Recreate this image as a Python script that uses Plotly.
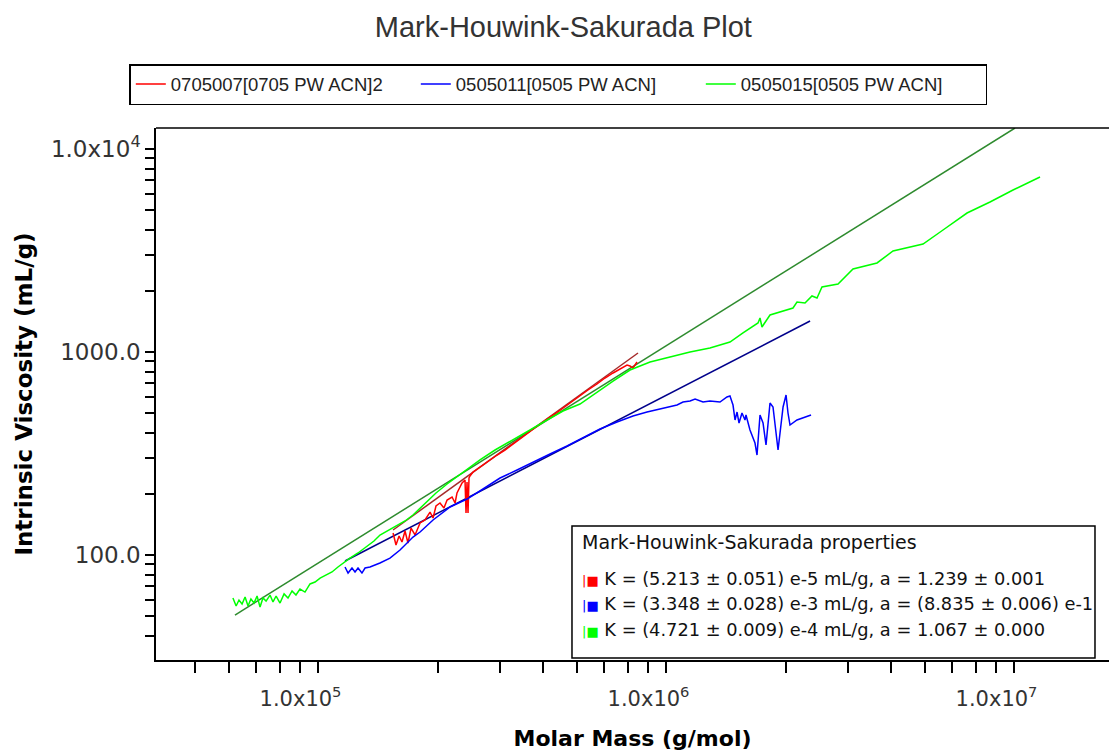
import plotly.graph_objects as go

# ---- data ----
series_names = ["0705007[0705 PW ACN]2", "0505011[0505 PW ACN]", "0505015[0505 PW ACN]"]

red_M = [148300, 151200, 154300, 157300, 160500, 163700, 167000, 171500, 177300, 183200,
         189400, 193200, 197000, 202300, 207700, 212000, 219100, 223500, 226400, 234100,
         238700, 240300, 241900, 243500, 245100, 246700, 251700, 263600, 278000, 295100,
         311000, 328000, 348100, 367100, 387000, 410700, 433000, 456600, 484500, 510900,
         538600, 571700, 602800, 635700, 665700, 697300, 711200, 725400, 744900]
red_eta = [128.3, 112.0, 124.1, 115.9, 131.3, 114.6, 135.8, 125.5, 143.8, 148.8,
           162.8, 152.2, 174.3, 180.4, 170.4, 186.6, 193.1, 180.4, 202.1, 226.3,
           234.1, 161.0, 228.8, 161.0, 239.5, 245.0, 256.4, 271.4, 290.4, 310.9,
           329.0, 352.2, 377.1, 403.6, 432.0, 467.7, 495.0, 529.9, 567.1, 607.3,
           649.8, 695.6, 744.6, 788.2, 824.6, 863.0, 853.1, 834.0, 892.5]

blue_M = [107900, 110100, 113000, 115300, 117600, 120700, 123200, 127300, 136000, 145300,
          155300, 169200, 177300, 193200, 216200, 241900, 268900, 301000, 336800, 374400,
          418900, 468800, 521200, 583100, 652600, 725400, 796000, 867500, 970700, 1010000,
          1058000, 1094000, 1153000, 1207000, 1290000, 1351000, 1378000, 1406000, 1425000, 1444000,
          1463000, 1492000, 1522000, 1532000, 1573000, 1626000, 1648000, 1681000, 1715000, 1749000,
          1796000, 1832000, 1881000, 1894000, 1958000, 1997000, 2023000, 2050000, 2147000, 2235000,
          2356000]
blue_eta = [87.3, 81.5, 86.3, 82.5, 86.3, 81.5, 86.3, 87.3, 91.3, 96.6,
            105.8, 122.6, 129.8, 148.8, 172.4, 188.7, 211.4, 239.5, 262.3, 287.2,
            314.5, 344.3, 377.1, 417.6, 452.0, 483.9, 506.3, 524.0, 548.0, 567.1,
            573.6, 586.8, 567.1, 573.6, 567.1, 600.3, 607.3, 548.0, 462.4, 506.3,
            446.9, 500.6, 462.4, 489.5, 412.9, 356.2, 310.9, 489.5, 446.9, 348.3,
            560.8, 536.0, 360.3, 329.0, 536.0, 614.2, 500.6, 436.9, 462.4, 473.0,
            489.5]

green_M = [51400, 52500, 53500, 54600, 55700, 56800, 57900, 59100, 60300, 61500,
           62700, 64000, 65700, 67000, 68400, 70200, 72100, 74000, 76000, 78000,
           80100, 82800, 85600, 88500, 91500, 95200, 99000, 103000, 106500, 111500,
           117600, 124000, 130700, 136000, 142500, 150200, 160500, 169200, 183200, 197000,
           212000, 227900, 246700, 263600, 291200, 328000, 367100, 410700, 456600, 510900,
           571700, 635700, 711200, 812000, 926900, 1058000, 1207000, 1378000, 1502000, 1659000,
           1681000, 1703000, 1796000, 2091000, 2147000, 2264000, 2371000, 2451000, 2533000, 2817000,
           3110000, 3646000, 4053000, 4627000, 4943000, 5642000, 6614000, 7700000, 8966000, 10720000]
green_eta = [61.4, 56.1, 60.0, 57.4, 62.1, 56.1, 60.7, 58.0, 62.8, 55.4,
             61.4, 59.3, 63.5, 58.7, 62.8, 58.0, 64.3, 61.4, 66.5, 63.5,
             68.0, 65.7, 72.0, 73.6, 77.0, 79.7, 82.5, 87.3, 91.3, 96.6,
             102.3, 109.5, 117.2, 125.5, 131.3, 139.0, 147.1, 157.4, 180.4, 202.1,
             223.8, 245.0, 271.4, 293.8, 329.0, 368.6, 412.9, 462.4, 512.2, 554.2,
             635.3, 719.6, 815.3, 892.5, 944.9, 1000, 1046, 1120, 1241, 1390,
             1471, 1328, 1522, 1647, 1763, 1743, 1888, 1845, 2091, 2163,
             2564, 2745, 3145, 3329, 3404, 3990, 4837, 5482, 6281, 7278]

# Mark-Houwink fit lines (end points)
red_fit_M = [148300, 749900]
red_fit_eta = [132.8, 988.8]
blue_fit_M = [107900, 2341000]
blue_fit_eta = [93.4, 1421]
green_fit_M = [52100, 9085000]
green_fit_eta = [50.6, 12690]

fit_texts = [
    "K = (5.213 ± 0.051) e-5 mL/g, a = 1.239 ± 0.001",
    "K = (3.348 ± 0.028) e-3 mL/g, a = (8.835 ± 0.006) e-1",
    "K = (4.721 ± 0.009) e-4 mL/g, a = 1.067 ± 0.000",
]

x_major = [1e5, 1e6, 1e7]
x_major_text = ["1.0x10<sup>5</sup>", "1.0x10<sup>6</sup>", "1.0x10<sup>7</sup>"]
x_minor = [4e4, 5e4, 6e4, 7e4, 8e4, 9e4,
           2e5, 3e5, 4e5, 5e5, 6e5, 7e5, 8e5, 9e5,
           2e6, 3e6, 4e6, 5e6, 6e6, 7e6, 8e6, 9e6]
y_ticks = [40, 50, 60, 70, 80, 90, 100, 200, 300, 400, 500, 600, 700, 800, 900,
           1000, 2000, 3000, 4000, 5000, 6000, 7000, 8000, 9000, 10000]
y_labels = {100: "100.0", 1000: "1000.0", 10000: "1.0x10<sup>4</sup>"}

data_colors = ["#ff0000", "#0000ff", "#00ff00"]
fit_colors = ["#a52a2a", "#00008b", "#2e8b2e"]

fig = go.Figure()
for fm, fe, c in [(red_fit_M, red_fit_eta, fit_colors[0]),
                  (blue_fit_M, blue_fit_eta, fit_colors[1]),
                  (green_fit_M, green_fit_eta, fit_colors[2])]:
    fig.add_trace(go.Scatter(x=fm, y=fe, mode="lines", line=dict(color=c, width=1.5),
                             showlegend=False, hoverinfo="skip"))

for m, e, c, n in [(red_M, red_eta, data_colors[0], series_names[0]),
                   (blue_M, blue_eta, data_colors[1], series_names[1]),
                   (green_M, green_eta, data_colors[2], series_names[2])]:
    fig.add_trace(go.Scatter(x=m, y=e, mode="lines", name=n, line=dict(color=c, width=1.5)))

fig.update_layout(
    width=1109, height=751,
    margin=dict(l=156, r=0, t=128, b=91),
    paper_bgcolor="white", plot_bgcolor="white",
    title=dict(text="Mark-Houwink-Sakurada Plot", xref="container", x=0.508, xanchor="center",
               yref="container", y=1 - 27 / 751, yanchor="middle",
               font=dict(family="Liberation Sans", size=29, color="#333333")),
    legend=dict(orientation="h", xref="paper", x=-0.028, xanchor="left",
                yref="paper", y=1.1203, yanchor="top",
                bordercolor="black", borderwidth=1.5, bgcolor="white",
                font=dict(family="Liberation Sans", size=18.5, color="#222222"),
                entrywidth=240, entrywidthmode="pixels", itemwidth=30),
    xaxis=dict(type="log", range=[4.4899, 7.2284], showgrid=False, zeroline=False,
               showline=True, linecolor="black", linewidth=1.5,
               tickmode="array", tickvals=x_major, ticktext=x_major_text,
               ticks="outside", ticklen=11, tickcolor="rgba(0,0,0,0)",
               ticklabelshift=-33, ticklabelstandoff=8,
               tickfont=dict(family="DejaVu Sans", size=21, color="#333333"),
               minor=dict(tickmode="array", tickvals=x_minor, ticks="outside",
                          ticklen=11, tickwidth=1.5, tickcolor="black"),
               title=dict(text="<b>Molar Mass (g/mol)</b>", standoff=22,
                          font=dict(family="DejaVu Sans", size=22, color="black"))),
    yaxis=dict(type="log", range=[1.4828, 4.1034], showgrid=False, zeroline=False,
               showline=True, linecolor="black", linewidth=1.5,
               tickmode="array", tickvals=y_ticks,
               ticktext=[y_labels.get(v, "") for v in y_ticks],
               ticks="outside", ticklen=9, tickwidth=1.5, tickcolor="black",
               tickfont=dict(family="DejaVu Sans", size=23, color="#333333"),
               title=dict(text="<b>Intrinsic Viscosity (mL/g)</b>", standoff=12,
                          font=dict(family="DejaVu Sans", size=23, color="black"))),
)

# top frame line
fig.add_shape(type="line", xref="paper", yref="paper", x0=0, x1=1, y0=1, y1=1,
              line=dict(color="black", width=1.5))

# Mark-Houwink-Sakurada properties box
fig.add_shape(type="rect", xref="paper", yref="paper", x0=0.4365, x1=0.9853, y0=0.0038, y1=0.2519,
              line=dict(color="black", width=1.5), fillcolor="white", layer="above")
fig.add_annotation(xref="paper", yref="paper", x=0.4449, y=0.2218, xanchor="left", yanchor="middle",
                   text="Mark-Houwink-Sakurada properties", showarrow=False,
                   font=dict(family="DejaVu Sans", size=19, color="#111111"))
for i, (txt, c) in enumerate(zip(fit_texts, data_colors)):
    ypos = [0.1541, 0.1071, 0.0564][i]
    fig.add_annotation(xref="paper", yref="paper", x=0.4449, y=ypos, xanchor="left", yanchor="middle",
                       text=f"<span style='color:{c};font-size:13px'>|■</span> {txt}", showarrow=False,
                       font=dict(family="DejaVu Sans", size=17.8, color="#111111"))

fig.write_html("out.html")
